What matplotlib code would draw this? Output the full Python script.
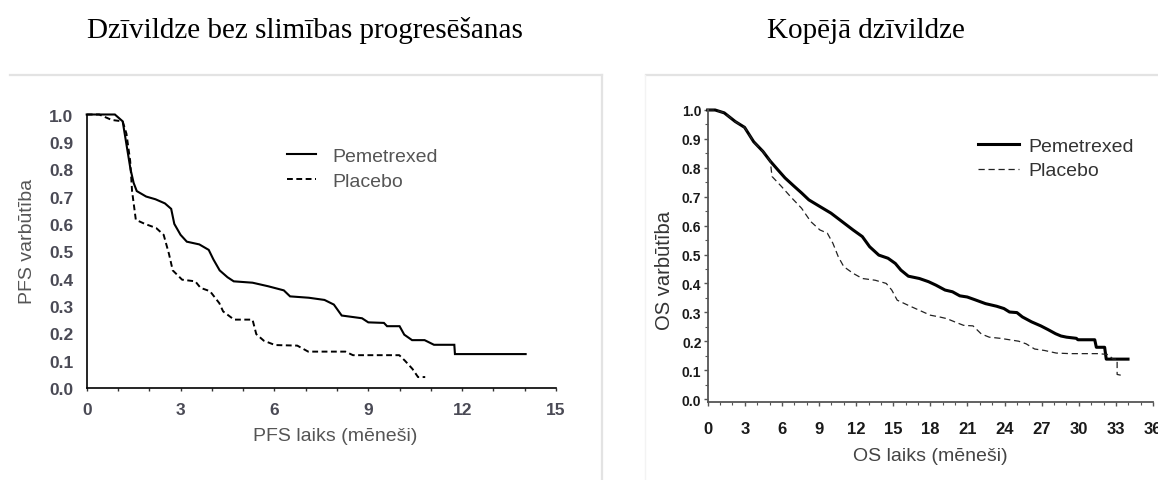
import matplotlib
matplotlib.use("Agg")
import matplotlib.pyplot as plt
from matplotlib.lines import Line2D
from matplotlib.ticker import MultipleLocator

# ---------------- data ----------------
title_left = "Dzīvildze bez slimības progresēšanas"
title_right = "Kopējā dzīvildze"
series_names = ["Pemetrexed", "Placebo"]

pfs_pem_t = [0, 0.9, 1.15, 1.2, 1.3, 1.4, 1.5, 1.6, 1.9, 2.2, 2.5, 2.7, 2.8, 3.0, 3.2, 3.6, 3.9,
             4.05, 4.25, 4.5, 4.7, 5.3, 5.8, 6.3, 6.5, 7.1, 7.6, 7.9, 8.15, 8.8, 9.0, 9.5, 9.6,
             10.0, 10.15, 10.4, 10.8, 11.1, 11.75, 11.77, 14.03]
pfs_pem_s = [1.0, 1.0, 0.975, 0.94, 0.87, 0.80, 0.75, 0.72, 0.70, 0.69, 0.675, 0.655, 0.60, 0.56,
             0.535, 0.525, 0.505, 0.47, 0.43, 0.405, 0.39, 0.385, 0.372, 0.357, 0.335, 0.33, 0.322,
             0.305, 0.265, 0.255, 0.24, 0.238, 0.226, 0.226, 0.195, 0.175, 0.175, 0.158, 0.158,
             0.124, 0.124]

pfs_pla_t = [0, 0.4, 0.8, 1.15, 1.27, 1.39, 1.45, 1.57, 1.86, 2.22, 2.46, 2.63, 2.75, 3.05, 3.47,
             3.64, 3.94, 4.24, 4.36, 4.71, 5.30, 5.42, 5.66, 6.02, 6.73, 7.08, 8.27, 8.51, 9.99,
             10.17, 10.41, 10.59, 10.82]
pfs_pla_s = [1.0, 1.0, 0.98, 0.975, 0.93, 0.83, 0.72, 0.615, 0.60, 0.585, 0.56, 0.49, 0.43, 0.396,
             0.39, 0.366, 0.354, 0.31, 0.28, 0.25, 0.25, 0.197, 0.173, 0.157, 0.155, 0.133, 0.133,
             0.12, 0.12, 0.10, 0.07, 0.04, 0.04]

os_pem_t = [0, 0.6, 1.34, 2.23, 2.98, 3.72, 4.46, 5.06, 5.65, 6.25, 6.99, 7.59, 8.18, 9.07, 9.97,
            10.86, 11.75, 12.5, 13.09, 13.83, 14.58, 15.17, 15.62, 16.22, 17.11, 17.85, 18.45,
            19.19, 19.79, 20.38, 20.98, 21.57, 22.46, 23.36, 23.95, 24.4, 25.0, 25.44, 26.18,
            26.93, 27.52, 28.12, 28.56, 29.01, 29.8, 29.93, 31.29, 31.42, 32.09, 32.22, 33.98]
os_pem_s = [1.0, 1.0, 0.99, 0.96, 0.94, 0.89, 0.857, 0.823, 0.794, 0.765, 0.736, 0.713, 0.689,
            0.666, 0.643, 0.614, 0.585, 0.562, 0.527, 0.498, 0.487, 0.469, 0.446, 0.425, 0.417,
            0.406, 0.394, 0.377, 0.371, 0.357, 0.353, 0.344, 0.33, 0.321, 0.313, 0.301, 0.299,
            0.284, 0.267, 0.253, 0.24, 0.226, 0.218, 0.214, 0.21, 0.205, 0.205, 0.179, 0.179,
            0.138, 0.138]

os_pla_t = [0, 0.6, 1.34, 2.23, 2.98, 3.72, 4.46, 5.06, 5.2, 5.95, 6.7, 7.59, 8.33, 9.07, 9.67,
            10.12, 10.56, 11.0, 11.75, 12.5, 13.54, 14.43, 14.88, 15.32, 16.22, 17.11, 18.0,
            18.74, 19.34, 20.08, 20.68, 21.45, 22.12, 22.76, 23.65, 24.4, 25.14, 25.74, 26.43,
            27.22, 28.18, 29.3, 31.56, 32.36, 32.77, 33.1, 33.1, 33.55]
os_pla_s = [1.0, 1.0, 0.99, 0.96, 0.94, 0.89, 0.857, 0.823, 0.77, 0.736, 0.70, 0.66, 0.614, 0.585,
            0.574, 0.539, 0.492, 0.458, 0.435, 0.417, 0.411, 0.40, 0.377, 0.342, 0.324, 0.307,
            0.29, 0.284, 0.278, 0.265, 0.255, 0.253, 0.225, 0.214, 0.21, 0.205, 0.20, 0.191,
            0.173, 0.168, 0.159, 0.157, 0.157, 0.154, 0.138, 0.138, 0.085, 0.081]

pfs_xticks = [0, 3, 6, 9, 12, 15]
pfs_yticks = [0.0, 0.1, 0.2, 0.3, 0.4, 0.5, 0.6, 0.7, 0.8, 0.9, 1.0]
os_xticks = [0, 3, 6, 9, 12, 15, 18, 21, 24, 27, 30, 33, 36]
os_yticks = [0.0, 0.1, 0.2, 0.3, 0.4, 0.5, 0.6, 0.7, 0.8, 0.9, 1.0]

# ---------------- figure ----------------
W, H = 1158, 481
fig = plt.figure(figsize=(W / 100, H / 100), dpi=100)
fig.patch.set_facecolor("white")


def rect(x0, y_top, x1, y_bot):
    return [x0 / W, 1 - y_bot / H, (x1 - x0) / W, (y_bot - y_top) / H]


# panel frames (light gray)
frame_c = "#e3e3e3"
fig.add_artist(Line2D([10 / W, 602 / W], [1 - 75.5 / H] * 2, color=frame_c, lw=1.6))
fig.add_artist(Line2D([602 / W, 602 / W], [1 - 75.5 / H, 0], color=frame_c, lw=1.6))
fig.add_artist(Line2D([646 / W, 1.0], [1 - 75.5 / H] * 2, color=frame_c, lw=1.6))
fig.add_artist(Line2D([645 / W, 645 / W], [1 - 75.5 / H, 0], color="#f3f3f3", lw=1.0))

# titles
fig.text(304.5 / W, 1 - 38.5 / H, title_left, ha="center", va="baseline",
         fontsize=21, family="Liberation Serif", color="black")
fig.text(866 / W, 1 - 38.5 / H, title_right, ha="center", va="baseline",
         fontsize=21, family="Liberation Serif", color="black")

# ---------------- left: PFS ----------------
ax1 = fig.add_axes(rect(86.7, 115.5, 556, 389))
ax1.set_xlim(0, 15)
ax1.set_ylim(0, 1.0)
ax1.plot(pfs_pem_t, pfs_pem_s, color="black", lw=1.5, clip_on=False,
         label=series_names[0], solid_joinstyle="miter")
ax1.plot(pfs_pla_t, pfs_pla_s, color="black", lw=1.4, ls=(0, (3, 1.8)), clip_on=False,
         label=series_names[1])
for s in ["top", "right"]:
    ax1.spines[s].set_visible(False)
for s in ["left", "bottom"]:
    ax1.spines[s].set_linewidth(1.2)
    ax1.spines[s].set_color("black")
ax1.set_xticks(pfs_xticks)
ax1.set_yticks(pfs_yticks)
ax1.set_yticklabels([f"{v:.1f}" for v in pfs_yticks])
ax1.xaxis.set_minor_locator(MultipleLocator(1))
ax1.tick_params(axis="x", which="both", direction="out", length=2.5, width=1.0,
                color="#333333", pad=7.5, labelsize=12.5, labelcolor="#4a4a55")
ax1.tick_params(axis="y", which="both", length=0, pad=9.5, labelsize=12.5, labelcolor="#4a4a55")
for lab in ax1.get_xticklabels() + ax1.get_yticklabels():
    lab.set_fontweight("bold")
    lab.set_family("Liberation Sans")
ax1.set_xlabel("PFS laiks (mēneši)", fontsize=14, family="Liberation Sans",
               color="#555555", va="center")
ax1.xaxis.set_label_coords(0.530, -0.175)
ax1.set_ylabel("PFS varbūtība", fontsize=14, family="Liberation Sans",
               color="#555555", va="center")
ax1.yaxis.set_label_coords(-0.127, 0.541)
ax1.legend(frameon=False, loc="upper left", bbox_to_anchor=(0.4265, 0.88),
           borderaxespad=0, borderpad=0, handlelength=1.5, handletextpad=0.85,
           labelspacing=0.38, prop={"family": "Liberation Sans", "size": 14},
           labelcolor="#555555")

# ---------------- right: OS ----------------
ax2 = fig.add_axes(rect(707.7, 111, 1153, 402.9))
ax2.set_xlim(0, 36)
ax2.set_ylim(-0.01, 1.0)
ax2.plot(os_pem_t, os_pem_s, color="black", lw=2.2, clip_on=False, label=series_names[0])
ax2.plot(os_pla_t, os_pla_s, color="#222222", lw=0.9, ls=(0, (5, 3)), clip_on=False,
         label=series_names[1])
for s in ["top", "right"]:
    ax2.spines[s].set_visible(False)
for s in ["left", "bottom"]:
    ax2.spines[s].set_linewidth(1.3)
    ax2.spines[s].set_color("#555555")
ax2.set_xticks(os_xticks)
ax2.set_yticks(os_yticks)
ax2.set_yticklabels([f"{v:.1f}" for v in os_yticks])
ax2.xaxis.set_minor_locator(MultipleLocator(1))
ax2.yaxis.set_minor_locator(MultipleLocator(0.05))
ax2.tick_params(axis="x", which="major", direction="out", length=3, width=1.0,
                color="#555555", pad=11, labelsize=12, labelcolor="#1a1a1a")
ax2.tick_params(axis="x", which="minor", direction="out", length=2, width=0.8, color="#555555")
ax2.tick_params(axis="y", which="major", direction="out", length=3, width=1.0,
                color="#555555", pad=1.5, labelsize=10, labelcolor="#1a1a1a")
ax2.tick_params(axis="y", which="minor", direction="out", length=2, width=0.8, color="#555555")
for lab in ax2.get_xticklabels() + ax2.get_yticklabels():
    lab.set_fontweight("bold")
    lab.set_family(["Liberation Sans Narrow", "Liberation Sans"])
ax2.set_xlabel("OS laiks (mēneši)", fontsize=14, family="Liberation Sans",
               color="#444444", va="center")
ax2.xaxis.set_label_coords(0.5, -0.182)
ax2.set_ylabel("OS varbūtība", fontsize=14.5, family="Liberation Sans",
               color="#333333", va="center")
ax2.yaxis.set_label_coords(-0.096, 0.455)
ax2.legend(frameon=False, loc="upper left", bbox_to_anchor=(0.6075, 0.9065),
           borderaxespad=0, borderpad=0, handlelength=2.1, handletextpad=0.5,
           labelspacing=0.35, prop={"family": "Liberation Sans", "size": 14},
           labelcolor="#333333")

fig.savefig("out.png", dpi=100, facecolor="white")
